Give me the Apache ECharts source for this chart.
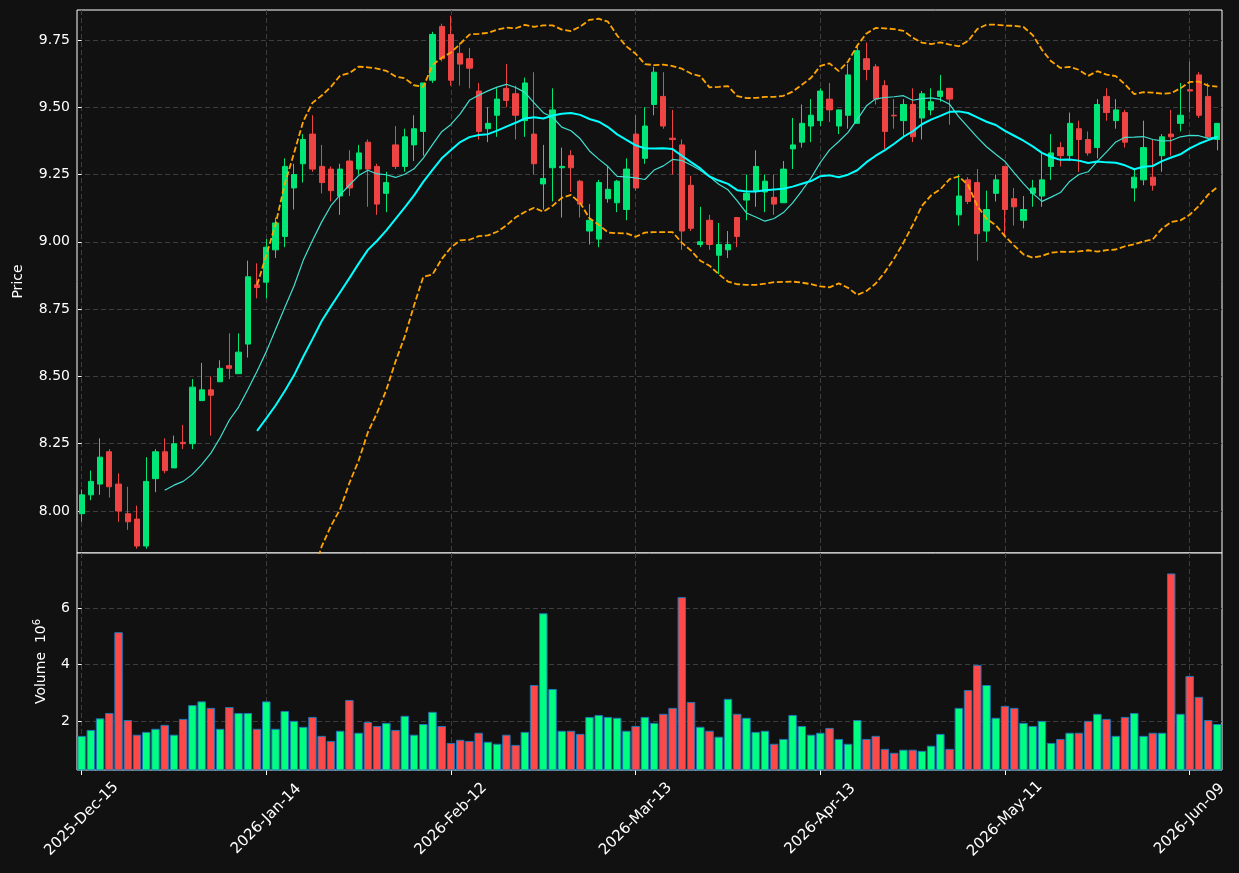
<!DOCTYPE html>
<html>
<head>
<meta charset="utf-8">
<script src="https://cdn.jsdelivr.net/npm/echarts@6/dist/echarts.min.js"></script>
<style>
html, body { margin: 0; padding: 0; background: #111111; }
#main { width: 1239px; height: 873px; }
</style>
</head>
<body>
<div id="main"></div>
<script>
// 交易日历 (NYSE 节假日)
var startDate = '2025-12-15';
var barCount = 124;
var holidays = ['2025-12-25', '2026-01-01', '2026-01-19', '2026-02-16', '2026-04-03', '2026-05-25'];
var monthNames = ['Jan','Feb','Mar','Apr','May','Jun','Jul','Aug','Sep','Oct','Nov','Dec'];

var opens = [7.99,8.06,8.10,8.22,8.10,7.99,7.97,7.87,8.12,8.22,
    8.16,8.255,8.25,8.41,8.45,8.48,8.54,8.51,8.62,8.84,
    8.85,8.97,9.02,9.20,9.29,9.40,9.28,9.27,9.17,9.30,
    9.27,9.37,9.28,9.18,9.36,9.28,9.36,9.41,9.60,9.80,
    9.77,9.70,9.68,9.56,9.42,9.47,9.57,9.55,9.45,9.40,
    9.215,9.275,9.275,9.32,9.225,9.04,9.01,9.16,9.145,9.12,
    9.40,9.31,9.51,9.54,9.385,9.36,9.21,8.99,9.08,8.95,
    8.97,9.09,9.155,9.19,9.185,9.165,9.145,9.345,9.37,9.43,
    9.45,9.53,9.43,9.47,9.44,9.68,9.65,9.58,9.47,9.45,
    9.51,9.46,9.49,9.54,9.57,9.10,9.23,9.22,9.04,9.18,
    9.28,9.16,9.08,9.18,9.17,9.28,9.35,9.32,9.42,9.38,
    9.35,9.54,9.45,9.48,9.20,9.23,9.24,9.32,9.40,9.44,
    9.565,9.62,9.54,9.38];
var closes = [8.06,8.11,8.20,8.09,8.00,7.96,7.87,8.11,8.22,8.15,
    8.25,8.25,8.46,8.45,8.43,8.53,8.53,8.59,8.87,8.83,
    8.98,9.07,9.28,9.25,9.38,9.27,9.22,9.19,9.27,9.20,
    9.33,9.27,9.14,9.22,9.28,9.39,9.42,9.59,9.77,9.68,
    9.60,9.66,9.645,9.41,9.44,9.53,9.525,9.47,9.59,9.29,
    9.235,9.49,9.28,9.275,9.14,9.08,9.22,9.195,9.225,9.27,
    9.20,9.43,9.63,9.43,9.38,9.04,9.05,9.00,8.99,8.99,
    8.99,9.02,9.18,9.28,9.225,9.14,9.27,9.36,9.44,9.47,
    9.56,9.49,9.49,9.62,9.71,9.64,9.53,9.41,9.468,9.51,
    9.39,9.55,9.52,9.56,9.53,9.17,9.15,9.03,9.12,9.23,
    9.12,9.13,9.12,9.20,9.23,9.33,9.32,9.44,9.38,9.33,
    9.51,9.48,9.49,9.37,9.24,9.35,9.21,9.39,9.39,9.47,
    9.56,9.47,9.39,9.44];
var highs = [8.08,8.15,8.27,8.23,8.14,8.09,8.02,8.20,8.23,8.27,
    8.28,8.32,8.49,8.55,8.50,8.56,8.66,8.66,8.93,8.92,
    9.01,9.09,9.31,9.29,9.40,9.47,9.36,9.28,9.29,9.34,
    9.36,9.38,9.29,9.26,9.43,9.42,9.47,9.59,9.78,9.81,
    9.84,9.74,9.72,9.59,9.50,9.57,9.66,9.58,9.61,9.63,
    9.36,9.57,9.35,9.34,9.23,9.14,9.23,9.28,9.23,9.31,
    9.47,9.50,9.65,9.63,9.49,9.38,9.245,9.13,9.10,9.07,
    9.04,9.09,9.25,9.34,9.25,9.25,9.30,9.46,9.51,9.53,
    9.57,9.59,9.49,9.66,9.73,9.74,9.66,9.60,9.53,9.53,
    9.57,9.56,9.57,9.62,9.57,9.25,9.24,9.27,9.19,9.25,
    9.28,9.20,9.17,9.23,9.33,9.40,9.37,9.48,9.45,9.41,
    9.53,9.57,9.53,9.49,9.27,9.45,9.38,9.40,9.49,9.59,
    9.67,9.63,9.59,9.44];
var lows = [7.96,8.04,8.06,8.05,7.96,7.93,7.86,7.86,8.07,8.14,
    8.16,8.23,8.23,8.41,8.28,8.48,8.49,8.51,8.57,8.79,
    8.79,8.94,8.98,9.12,9.22,9.26,9.18,9.15,9.10,9.17,
    9.25,9.13,9.10,9.11,9.27,9.26,9.30,9.32,9.59,9.67,
    9.58,9.58,9.57,9.38,9.37,9.39,9.50,9.38,9.39,9.25,
    9.12,9.15,9.09,9.185,9.09,8.99,8.98,9.145,9.11,9.08,
    9.19,9.29,9.47,9.42,9.25,8.97,9.04,8.98,8.97,8.88,
    8.94,8.98,9.08,9.13,9.11,9.10,9.145,9.27,9.35,9.37,
    9.43,9.445,9.40,9.42,9.44,9.60,9.51,9.345,9.42,9.39,
    9.37,9.38,9.47,9.52,9.435,9.06,9.14,8.93,9.00,9.15,
    9.02,9.06,9.05,9.13,9.13,9.23,9.28,9.30,9.26,9.32,
    9.31,9.45,9.42,9.35,9.15,9.21,9.19,9.26,9.32,9.41,
    9.48,9.46,9.385,9.34];
// 成交量 (10^6)
var volumes = [1.47,1.68,2.09,2.28,5.14,2.03,1.51,1.61,1.72,1.86,
    1.51,2.07,2.56,2.69,2.46,1.72,2.49,2.28,2.28,1.72,
    2.69,1.72,2.35,2.00,1.79,2.14,1.47,1.29,1.65,2.74,
    1.58,1.96,1.82,1.93,1.68,2.18,1.51,1.89,2.32,1.82,
    1.22,1.33,1.29,1.58,1.26,1.19,1.51,1.15,1.61,3.27,
    5.81,3.13,1.65,1.65,1.54,2.14,2.21,2.14,2.11,1.65,
    1.82,2.14,1.93,2.25,2.46,6.38,2.67,1.79,1.65,1.44,
    2.78,2.25,2.11,1.61,1.65,1.19,1.36,2.21,1.82,1.51,
    1.58,1.75,1.36,1.19,2.03,1.36,1.47,1.01,0.87,0.98,
    0.98,0.94,1.12,1.54,1.01,2.46,3.09,3.98,3.27,2.11,
    2.53,2.46,1.93,1.82,2.00,1.22,1.36,1.58,1.58,2.00,
    2.25,2.07,1.47,2.14,2.28,1.47,1.58,1.58,7.22,2.25,
    3.59,2.85,2.03,1.89];
var priceTicks = [8.00, 8.25, 8.50, 8.75, 9.00, 9.25, 9.50, 9.75];
var volumeTicks = [2, 4, 6];
var labelEvery = 20;

var FONT = 'DejaVu Sans';

function buildDates(start, count) {
    var res = [];
    var d = new Date(start + 'T00:00:00Z');
    while (res.length < count) {
        var iso = d.toISOString().substr(0, 10);
        var wd = d.getUTCDay();
        if (wd !== 0 && wd !== 6 && holidays.indexOf(iso) < 0) {
            var dd = d.getUTCDate();
            res.push(d.getUTCFullYear() + '-' + monthNames[d.getUTCMonth()] + '-' + (dd < 10 ? '0' + dd : dd));
        }
        d.setUTCDate(d.getUTCDate() + 1);
    }
    return res;
}

function movingAvg(arr, n) {
    var out = [];
    for (var i = 0; i < arr.length; i++) {
        if (i < n - 1) { out.push(null); continue; }
        var s = 0;
        for (var j = i - n + 1; j <= i; j++) s += arr[j];
        out.push(s / n);
    }
    return out;
}

function bollinger(arr, n, k, sign) {
    var ma = movingAvg(arr, n);
    var out = [];
    for (var i = 0; i < arr.length; i++) {
        if (ma[i] === null) { out.push(null); continue; }
        var s = 0;
        for (var j = i - n + 1; j <= i; j++) s += (arr[j] - ma[i]) * (arr[j] - ma[i]);
        out.push(ma[i] + sign * k * Math.sqrt(s / n));
    }
    return out;
}

var dates = buildDates(startDate, barCount);
var ma10 = movingAvg(closes, 10);
var ma20 = movingAvg(closes, 20);
var upper = bollinger(closes, 20, 2, 1);
var lower = bollinger(closes, 20, 2, -1);

var candleData = [];
var volData = [];
for (var i = 0; i < dates.length; i++) {
    candleData.push([opens[i], closes[i], lows[i], highs[i]]);
    volData.push({
        value: volumes[i],
        itemStyle: { color: closes[i] >= opens[i] ? '#00ff80' : '#ff4848' }
    });
}

// 竖向网格线位置 (与日期标签对齐)
var vGridIdx = [];
for (var i = 0; i < dates.length; i += labelEvery) vGridIdx.push(i);

function showEvery(index) { return index % labelEvery === 0; }

var gridLineStyle = { color: '#3d3d3d', type: [5, 3], width: 1 };
var textStyle = { color: '#ffffff', fontSize: 14, fontFamily: FONT };

function gridAxis(gridIndex) {
    return {
        type: 'value', gridIndex: gridIndex, min: -0.5, max: barCount - 0.5,
        show: true, position: 'top',
        axisLine: { show: false },
        axisTick: { show: false, customValues: vGridIdx },
        axisLabel: { show: false, customValues: vGridIdx },
        splitLine: { show: true, lineStyle: gridLineStyle }
    };
}

var option = {
    backgroundColor: '#111111',
    animation: false,
    textStyle: { fontFamily: FONT },
    grid: [{
        left: 77, right: 17, top: 10, height: 543,
        show: true, borderColor: '#ffffff', borderWidth: 1, backgroundColor: '#111111'
    }, {
        left: 77, right: 17, top: 553, height: 217,
        show: true, borderColor: '#ffffff', borderWidth: 1, backgroundColor: '#111111'
    }],
    xAxis: [{
        type: 'category', gridIndex: 0, data: dates, boundaryGap: true,
        axisLine: { show: false }, axisTick: { show: false },
        axisLabel: { show: false }, splitLine: { show: false }
    }, {
        type: 'category', gridIndex: 1, data: dates, boundaryGap: true,
        axisLine: { show: false },
        axisTick: { show: true, alignWithLabel: true, interval: showEvery, length: 5, lineStyle: { color: '#ffffff' } },
        axisLabel: {
            interval: showEvery, rotate: 45, align: 'center', verticalAlign: 'middle', margin: 49,
            color: '#ffffff', fontSize: 15, fontFamily: FONT
        },
        splitLine: { show: false }
    }, gridAxis(0), gridAxis(1)],
    yAxis: [{
        type: 'value', gridIndex: 0, min: 7.844, max: 9.861, scale: true,
        axisLine: { show: false },
        axisTick: { show: true, length: 4, customValues: priceTicks, lineStyle: { color: '#ffffff' } },
        axisLabel: {
            customValues: priceTicks, margin: 7, color: '#ffffff', fontSize: 14, fontFamily: FONT,
            formatter: function (v) { return v.toFixed(2); }
        },
        splitLine: { show: true, lineStyle: gridLineStyle },
        name: 'Price', nameLocation: 'middle', nameGap: 52, nameRotate: 90,
        nameTextStyle: textStyle
    }, {
        type: 'value', gridIndex: 1,
        min: 0.3 * Math.min.apply(null, volumes),
        max: 1.1 * Math.max.apply(null, volumes),
        axisLine: { show: false },
        axisTick: { show: true, length: 4, customValues: volumeTicks, lineStyle: { color: '#ffffff' } },
        axisLabel: { customValues: volumeTicks, margin: 7, color: '#ffffff', fontSize: 14, fontFamily: FONT },
        splitLine: { show: true, lineStyle: gridLineStyle },
        name: 'Volume  10{sup|6}', nameLocation: 'middle', nameGap: 26, nameRotate: 90,
        nameTextStyle: {
            color: '#ffffff', fontSize: 14, fontFamily: FONT,
            rich: { sup: { fontSize: 10, color: '#ffffff', fontFamily: FONT, padding: [0, 0, 9, 0] } }
        }
    }],
    series: [{
        name: 'OHLC', type: 'candlestick', xAxisIndex: 0, yAxisIndex: 0,
        data: candleData, barWidth: '62%', z: 3,
        itemStyle: {
            color: '#00e676', color0: '#ef4444',
            borderColor: '#00e676', borderColor0: '#ef4444', borderWidth: 1
        }
    }, {
        name: 'MA10', type: 'line', xAxisIndex: 0, yAxisIndex: 0, data: ma10, z: 4,
        showSymbol: false, symbol: 'none', lineStyle: { color: '#40e0d0', width: 1.2 }
    }, {
        name: 'MA20', type: 'line', xAxisIndex: 0, yAxisIndex: 0, data: ma20, z: 4,
        showSymbol: false, symbol: 'none', lineStyle: { color: '#00ffff', width: 2 }
    }, {
        name: 'Upper', type: 'line', xAxisIndex: 0, yAxisIndex: 0, data: upper, z: 4,
        showSymbol: false, symbol: 'none', lineStyle: { color: '#ffa500', width: 1.8, type: [6, 2.6] }
    }, {
        name: 'Lower', type: 'line', xAxisIndex: 0, yAxisIndex: 0, data: lower, z: 4,
        showSymbol: false, symbol: 'none', lineStyle: { color: '#ffa500', width: 1.8, type: [6, 2.6] }
    }, {
        name: 'Volume', type: 'bar', xAxisIndex: 1, yAxisIndex: 1, data: volData, z: 3,
        barCategoryGap: '8%',
        itemStyle: { borderColor: '#1f77b4', borderWidth: 1 }
    }]
};

var chart = echarts.init(document.getElementById('main'));
chart.setOption(option, true);
</script>
</body>
</html>
